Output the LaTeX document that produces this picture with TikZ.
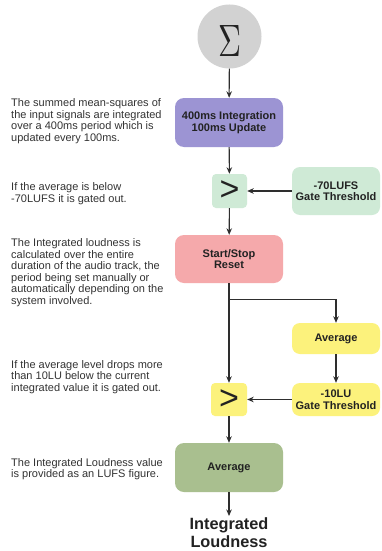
\documentclass[tikz,border=0pt]{standalone}
\usepackage{fontspec}
\setmainfont{Liberation Sans}
\usetikzlibrary{arrows.meta,calc}
\definecolor{sigfill}{HTML}{D2D2D2}
\definecolor{purp}{HTML}{9C94D3}
\definecolor{lgreen}{HTML}{CFEAD6}
\definecolor{pinkb}{HTML}{F5A9AB}
\definecolor{yelb}{HTML}{FCF27C}
\definecolor{oliveb}{HTML}{A9BF8F}
\definecolor{txt}{HTML}{222222}
\definecolor{notetxt}{HTML}{333333}
\definecolor{linec}{HTML}{2E2E2E}
\begin{document}
\begin{tikzpicture}[x=1pt,y=-1pt,
  box/.style={rounded corners=9pt, minimum width=108pt, minimum height=49pt, inner sep=0pt, align=center, text=txt, font=\fontsize{11}{11.5}\selectfont\bfseries},
  sidebox/.style={box, minimum width=88pt, rounded corners=8pt},
  gatebox/.style={rounded corners=4pt, minimum width=35pt, minimum height=34pt, inner sep=0pt, text=txt, font=\fontsize{34}{34}\selectfont},
  note/.style={anchor=west, align=left, inner sep=0pt, text=notetxt, font=\fontsize{11}{11.5}\selectfont},
  arr/.style={draw=linec, line width=1.1pt, -{Stealth[length=6.5pt,width=5.5pt]}},
  ln/.style={draw=linec, line width=1.1pt}]
\useasboundingbox (0,0) rectangle (382,551);
\fill[white] (0,0) rectangle (382,551);

\node[circle, fill=sigfill, minimum size=64pt, inner sep=0pt] (sig) at (229.5,36.5) {};
\node[inner sep=0pt, text=txt] (sigsym) at (229.5,40.5) {\resizebox{23pt}{31pt}{$\Sigma$}};
\node[box, fill=purp] (integ) at (229,122.5) {400ms Integration\\100ms Update};
\node[gatebox, fill=lgreen] (g1) at (229.5,191) {>};
\node[sidebox, fill=lgreen, minimum height=48pt] (t1) at (336,191) {-70LUFS\\Gate Threshold};
\node[box, fill=pinkb, minimum height=48pt] (start) at (229,259) {Start/Stop\\Reset};
\node[sidebox, fill=yelb, minimum height=31pt] (avg1) at (336,338.5) {Average};
\node[sidebox, fill=yelb, minimum height=33pt] (t2) at (336,399.5) {-10LU\\Gate Threshold};
\node[gatebox, fill=yelb, minimum width=36pt, minimum height=33pt] (g2) at (229,399.5) {>};
\node[box, fill=oliveb] (avg2) at (229,467.5) {Average};
\node[anchor=north, inner sep=1pt, align=center, text=txt, font=\fontsize{16.3}{18.5}\selectfont\bfseries] (out) at (229,516) {Integrated\\Loudness};

\coordinate (br) at ($(start.south)+(0,16)$);

\draw[arr] (sig) -- (integ);
\draw[arr] (integ) -- (g1);
\draw[arr] (t1) -- (g1);
\draw[arr] (g1) -- (start);
\draw[arr] (start) -- (g2);
\draw[arr] (br) -| (avg1.north);
\draw[arr] (avg1) -- (t2);
\draw[arr] (t2) -- (g2);
\draw[arr] (g2) -- (avg2);
\draw[arr] (avg2) -- (out);

\node[note] (n1) at (11,121) {The summed mean-squares of\\the input signals are integrated\\over a 400ms period which is\\updated every 100ms.};
\node[note] (n2) at (11,193.5) {If the average is below\\-70LUFS it is gated out.};
\node[note] (n3) at (11,272.5) {The Integrated loudness is\\calculated over the entire\\duration of the audio track, the\\period being set manually or\\automatically depending on the\\system involved.};
\node[note] (n4) at (11,377) {If the average level drops more\\than 10LU below the current\\integrated value it is gated out.};
\node[note] (n5) at (11,469) {The Integrated Loudness value\\is provided as an LUFS figure.};
\end{tikzpicture}
\end{document}
